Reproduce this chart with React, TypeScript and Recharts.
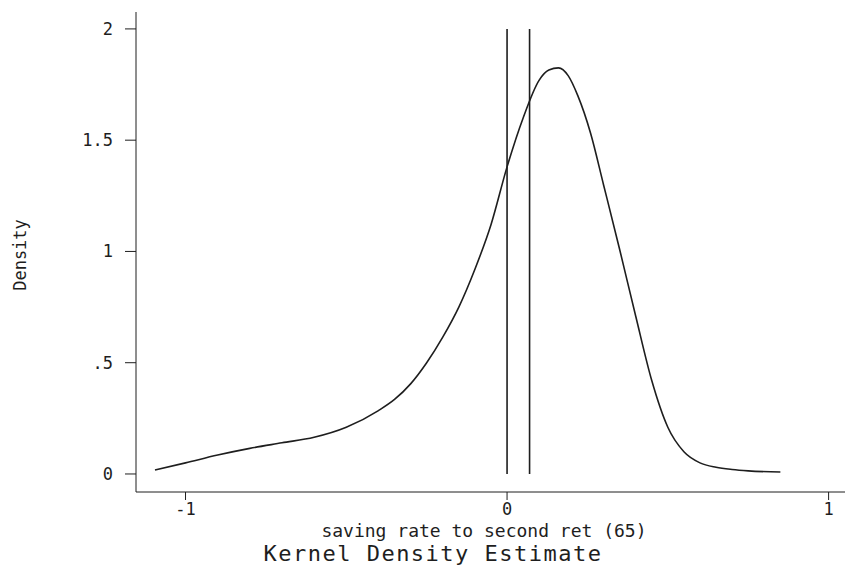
import {
  ComposedChart,
  Line,
  XAxis,
  YAxis,
  ReferenceLine,
} from "recharts";

const rateX = [
  -1.095, -1.0, -0.9, -0.8, -0.7, -0.6, -0.5, -0.4, -0.35, -0.3, -0.25, -0.2,
  -0.15, -0.1, -0.05, 0, 0.05, 0.1, 0.13, 0.16, 0.19, 0.22, 0.26, 0.3, 0.35,
  0.4, 0.45, 0.5, 0.55, 0.6, 0.65, 0.7, 0.75, 0.85,
];
const densityY = [
  0.018, 0.05, 0.085, 0.115, 0.14, 0.165, 0.21, 0.285, 0.335, 0.405, 0.5,
  0.615, 0.75, 0.92, 1.12, 1.38, 1.6, 1.77, 1.815, 1.825, 1.79, 1.7, 1.53,
  1.3, 1.01, 0.71, 0.42, 0.21, 0.1, 0.05, 0.03, 0.02, 0.014, 0.009,
];
const markerX = [0, 0.07];
const markerTop = 2;
const xTicks = [-1, 0, 1];
const yTicks = [0, 0.5, 1, 1.5, 2];

const xTitle = "saving rate to second ret (65)";
const chartTitle = "Kernel Density Estimate";
const yTitle = "Density";

const ink = "#1e1e1e";
const mono = "'DejaVu Sans Mono', monospace";

const data = rateX.map((x, i) => ({ x, d: densityY[i] }));

const fmtY = (v: number) => String(v).replace(/^0\./, ".");

export default function App() {
  return (
    <div style={{ position: "absolute", left: 0, top: 0, background: "#fff" }}>
      <ComposedChart
        width={845}
        height={567}
        data={data}
        margin={{ top: 12, right: 0, bottom: 0, left: 0 }}
      >
        <XAxis
          type="number"
          dataKey="x"
          domain={[-1.154, 1.051]}
          allowDataOverflow
          ticks={xTicks}
          height={75}
          stroke={ink}
          tickSize={8}
          tickMargin={3}
          tick={{ fill: ink, fontSize: 17, fontFamily: mono }}
          label={{
            content: ({ viewBox }: any) => (
              <g>
                <text
                  x={viewBox.x + 348}
                  y={viewBox.y + 45}
                  textAnchor="middle"
                  fill={ink}
                  fontSize={18}
                  fontFamily={mono}
                >
                  {xTitle}
                </text>
                <text
                  x={viewBox.x + 297}
                  y={viewBox.y + 69}
                  textAnchor="middle"
                  fill={ink}
                  fontSize={22}
                  fontFamily={mono}
                  letterSpacing={1.5}
                >
                  {chartTitle}
                </text>
              </g>
            ),
          }}
        />
        <YAxis
          type="number"
          domain={[-0.081, 2.076]}
          allowDataOverflow
          ticks={yTicks}
          width={136}
          stroke={ink}
          tickSize={11}
          tickMargin={12}
          tickFormatter={fmtY}
          tick={{ fill: ink, fontSize: 17, fontFamily: mono }}
          label={{
            content: () => (
              <text
                x={26}
                y={255}
                textAnchor="middle"
                fill={ink}
                fontSize={17}
                fontFamily={mono}
                transform="rotate(-90 26 255)"
              >
                {yTitle}
              </text>
            ),
          }}
        />
        {markerX.map((mx) => (
          <ReferenceLine
            key={mx}
            segment={[
              { x: mx, y: 0 },
              { x: mx, y: markerTop },
            ]}
            stroke={ink}
            strokeWidth={1.6}
          />
        ))}
        <Line
          type="monotone"
          dataKey="d"
          stroke={ink}
          strokeWidth={1.6}
          dot={false}
          isAnimationActive={false}
        />
      </ComposedChart>
    </div>
  );
}
